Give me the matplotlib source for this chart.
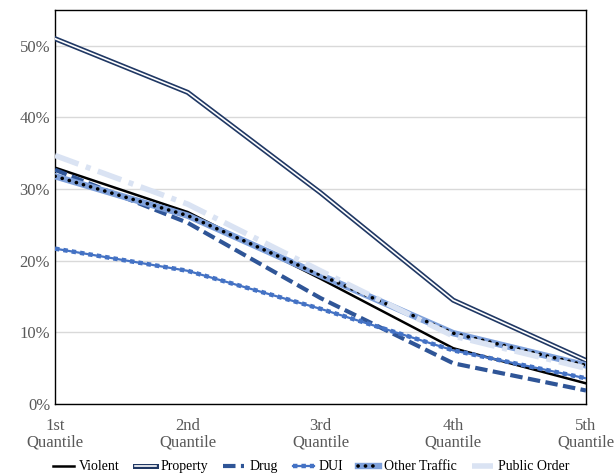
import numpy as np
import matplotlib
matplotlib.use("Agg")
import matplotlib.pyplot as plt
from matplotlib.ticker import PercentFormatter
from matplotlib.legend_handler import HandlerTuple

quantiles = ["1st\nQuantile", "2nd\nQuantile", "3rd\nQuantile", "4th\nQuantile", "5th\nQuantile"]
violent = [33.0, 26.8, 17.5, 7.8, 2.9]
property_ = [51.0, 43.5, 29.5, 14.5, 6.1]
drug = [32.7, 25.3, 14.8, 5.7, 1.9]
dui = [21.7, 18.6, 13.3, 7.5, 3.6]
other_traffic = [31.8, 26.3, 18.0, 9.9, 5.4]
public_order = [34.7, 27.9, 18.6, 9.5, 5.0]

plt.rcParams['font.family'] = ['Liberation Serif', 'DejaVu Serif']

fig = plt.figure(figsize=(6.16, 4.76), dpi=100)
ax = fig.add_axes([0.0893, 0.151, 0.862, 0.828])
x = np.arange(len(quantiles))

# violent
h_v, = ax.plot(x, violent, color='black', lw=1.8, zorder=3)

# property: double line
p1, = ax.plot(x, property_, color='#203864', lw=3.6, zorder=3)
p2, = ax.plot(x, property_, color='white', lw=1.2, zorder=3)

# drug
h_d, = ax.plot(x, drug, color='#2F5597', lw=3.0, linestyle=(0, (3.0, 1.3)), zorder=3)

# DUI: thin line with square dots
d1, = ax.plot(x, dui, color='#4472C4', lw=1.6, zorder=3)
d2, = ax.plot(x, dui, color='#4472C4', lw=3.2, linestyle=(0, (1.0, 0.9)), zorder=3)

# other traffic: wide blue band with black dots
o1, = ax.plot(x, other_traffic, color='#7FA1DB', lw=4.6, zorder=3)
o2, = ax.plot(x, other_traffic, color='black', lw=2.6, linestyle=(0, (0.05, 2.0)),
              dash_capstyle='round', zorder=3)

# public order
h_p, = ax.plot(x, public_order, color='#DAE3F3', lw=4.0, linestyle=(0, (4.5, 1.4, 0.9, 1.4)), zorder=3)

ax.set_xlim(0, 4)
ax.set_ylim(0, 55)
ax.set_yticks(np.arange(0, 51, 10))
ax.yaxis.set_major_formatter(PercentFormatter(decimals=0))
ax.set_xticks(x)
ax.set_xticklabels(quantiles, linespacing=1.0)
ax.tick_params(axis='both', length=0, labelsize=12, colors='#595959')
ax.tick_params(axis='x', pad=10)
ax.grid(axis='y', color='#D9D9D9', lw=1)
ax.set_axisbelow(True)
for s in ax.spines.values():
    s.set_color('black')
    s.set_linewidth(1.0)

fig.legend([h_v, (p1, p2), h_d, (d1, d2), (o1, o2), h_p],
           ["Violent", "Property", "Drug", "DUI", "Other Traffic", "Public Order"],
           handler_map={tuple: HandlerTuple(ndivide=1, pad=0)},
           loc='center', bbox_to_anchor=(0.505, 0.019), ncol=6, frameon=False,
           fontsize=10, handlelength=1.5, handletextpad=0.35, columnspacing=1.1)

fig.savefig("out.png", dpi=100)
